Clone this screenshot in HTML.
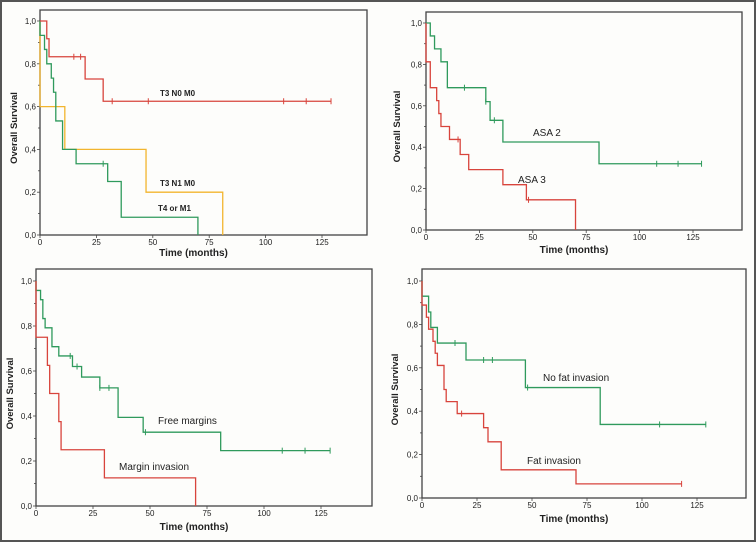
<!DOCTYPE html>
<html><head><meta charset="utf-8"><style>
body{margin:0;background:#fff;}
svg{display:block;font-family:"Liberation Sans",sans-serif;}
</style></head><body>
<svg id="fig" width="756" height="542" viewBox="0 0 756 542">
<rect x="1" y="1" width="754" height="540" fill="#fdfdfb" stroke="#555" stroke-width="2"/>
</svg>
<script>
// ---- Panel A: stage ----
const aRedT=[0,3,4,20,28]; const aRedS=[1,0.917,0.833,0.729,0.625]; const aRedEnd=129; const aRedCens=[15,18,32,48,108,118,129];
const aGrnT=[0,2,3,5,6,7,10,16,30,36,70]; const aGrnS=[0.933,0.867,0.8,0.733,0.667,0.533,0.4,0.333,0.25,0.083,0]; const aGrnEnd=70; const aGrnCens=[28];
const aOrgT=[0,11,47,81]; const aOrgS=[0.6,0.4,0.2,0]; const aOrgEnd=81; const aOrgCens=[];
// ---- Panel B: ASA ----
const bA2T=[0,2,4,7,10,28,30,36,81]; const bA2S=[1,0.9375,0.875,0.8125,0.6875,0.62,0.53,0.425,0.32]; const bA2End=129; const bA2Cens=[18,28,32,108,118,129];
const bA3T=[0,2,5,6,7,11,16,20,36,47,70]; const bA3S=[0.8125,0.6875,0.625,0.5625,0.5,0.4375,0.3646,0.2917,0.2188,0.1458,0]; const bA3End=70; const bA3Cens=[15,48];
// ---- Panel C: margins ----
const cFreeT=[0,2,3,4,7,10,16,20,28,36,47,81]; const cFreeS=[0.958,0.917,0.833,0.792,0.708,0.667,0.62,0.573,0.525,0.394,0.328,0.246]; const cFreeEnd=129; const cFreeCens=[15,18,28,32,48,108,118,129];
const cInvT=[0,5,6,10,11,30,70]; const cInvS=[0.75,0.625,0.5,0.375,0.25,0.125,0]; const cInvEnd=70; const cInvCens=[];
// ---- Panel D: fat ----
const dNoT=[0,3,4,7,20,47,81]; const dNoS=[0.93,0.857,0.786,0.714,0.636,0.509,0.339]; const dNoEnd=129; const dNoCens=[15,28,32,48,108,129];
const dFatT=[0,2,3,5,6,7,10,11,16,28,30,36,70]; const dFatS=[0.889,0.833,0.778,0.722,0.667,0.611,0.5,0.444,0.389,0.324,0.259,0.13,0.065]; const dFatEnd=118; const dFatCens=[18,118];
const xTicks=[0,25,50,75,100,125];
const yTicks=[0,0.2,0.4,0.6,0.8,1.0];
const yTickLabels=["0,0","0,2","0,4","0,6","0,8","1,0"];

const NS="http://www.w3.org/2000/svg";
const svg=document.getElementById('fig');
function mk(tag,attrs,parent){const e=document.createElementNS(NS,tag);for(const k in attrs)e.setAttribute(k,attrs[k]);(parent||svg).appendChild(e);return e;}
const RED="#d8443c",GRN="#2f9a5c",ORG="#f2b52e",GRY="#3b3b3b";

function panel(id,g){
  const grp=mk('g',{});
  
  
  const sx=v=>g.x0+(g.x125-g.x0)*v/125;
  const sy=v=>g.y0+(g.y1-g.y0)*v;
  const box=mk('rect',{x:g.x0,y:g.top,width:g.right-g.x0,height:g.y0-g.top,fill:'none',stroke:'#444','stroke-width':1.3},grp);
  
  
  for(let i=0;i<=10;i++){const y=sy(i/10);mk('line',{x1:g.x0-(i%2?2:3),y1:y,x2:g.x0,y2:y,stroke:'#444','stroke-width':0.8},grp);}
  yTicks.forEach((v,i)=>{const t=mk('text',{x:g.x0-4,y:sy(v)+3,'font-size':8,'text-anchor':'end',fill:'#222'},grp);t.textContent=yTickLabels[i];
    
    });
  xTicks.forEach(v=>{mk('line',{x1:sx(v),y1:g.y0,x2:sx(v),y2:g.y0+3,stroke:'#444','stroke-width':0.8},grp);
    const t=mk('text',{x:sx(v),y:g.y0+10,'font-size':8,'text-anchor':'middle',fill:'#222'},grp);t.textContent=v;
    
    });
  const xl=mk('text',{x:(g.x0+g.right)/2-10,y:g.xl,'font-size':10,'font-weight':'bold','text-anchor':'middle',fill:'#222'},grp);xl.textContent='Time (months)';
  
  
  const yc=(g.y0+g.y1)/2;
  const yl=mk('text',{x:g.yl,y:yc,'font-size':9.5,'font-weight':'bold','text-anchor':'middle',fill:'#222',transform:`rotate(-90 ${g.yl} ${yc})`},grp);yl.textContent='Overall Survival';
  
  
  return {grp,sx,sy};
}
function curve(p,name,T,S,end,cens,color,startOne){
  let d=`M${p.sx(0)},${p.sy(startOne?1:S[0])}`;
  for(let i=0;i<T.length;i++){d+=` L${p.sx(T[i])},${p.sy(i?S[i-1]:(startOne?1:S[0]))} L${p.sx(T[i])},${p.sy(S[i])}`;}
  d+=` L${p.sx(end)},${p.sy(S[S.length-1])}`;
  const path=mk('path',{d,fill:'none',stroke:color,'stroke-width':1.3},p.grp);
  
  
  cens.forEach(c=>{let v=S[0];for(let i=0;i<T.length;i++){if(T[i]<=c)v=S[i];}
    const m=mk('line',{x1:p.sx(c),y1:p.sy(v)-3,x2:p.sx(c),y2:p.sy(v)+3,stroke:color,'stroke-width':1},p.grp);
    
    });
}
function label(p,name,x,y,txt,size,bold){
  const t=mk('text',{x,y,'font-size':size,'font-weight':bold?'bold':'normal',fill:'#222'},p.grp);t.textContent=txt;
  
  
}
const pA=panel('stage',{x0:40,x125:322,right:367,top:10,y0:235,y1:21,xl:256,yl:17});
curve(pA,'t3-n1-m0',aOrgT,aOrgS,aOrgEnd,aOrgCens,ORG,true);
curve(pA,'t4-or-m1',aGrnT,aGrnS,aGrnEnd,aGrnCens,GRN,true);
curve(pA,'t3-n0-m0',aRedT,aRedS,aRedEnd,aRedCens,RED,true);
label(pA,'t3-n0-m0-label',160,96,'T3 N0 M0',8,true);
label(pA,'t3-n1-m0-label',160,186,'T3 N1 M0',8,true);
label(pA,'t4-or-m1-label',158,211,'T4 or M1',8,true);

const pB=panel('asa',{x0:426,x125:693,right:742,top:12,y0:230,y1:23,xl:253,yl:400});
curve(pB,'asa-2',bA2T,bA2S,bA2End,bA2Cens,GRN,true);
curve(pB,'asa-3',bA3T,bA3S,bA3End,bA3Cens,RED,true);
label(pB,'asa-2-label',533,136,'ASA 2',10,false);
label(pB,'asa-3-label',518,183,'ASA 3',10,false);

const pC=panel('margins',{x0:36,x125:321,right:372,top:269,y0:506,y1:281,xl:530,yl:13});
curve(pC,'free-margins',cFreeT,cFreeS,cFreeEnd,cFreeCens,GRN,true);
curve(pC,'margin-invasion',cInvT,cInvS,cInvEnd,cInvCens,RED,true);
label(pC,'free-margins-label',158,424,'Free margins',10,false);
label(pC,'margin-invasion-label',119,470,'Margin invasion',10,false);

const pD=panel('fat',{x0:422,x125:697,right:746,top:269,y0:498,y1:281,xl:522,yl:398});
curve(pD,'no-fat-invasion',dNoT,dNoS,dNoEnd,dNoCens,GRN,true);
curve(pD,'fat-invasion',dFatT,dFatS,dFatEnd,dFatCens,RED,true);
label(pD,'no-fat-invasion-label',543,381,'No fat invasion',10,false);
label(pD,'fat-invasion-label',527,464,'Fat invasion',10,false);
</script>
</body></html>
